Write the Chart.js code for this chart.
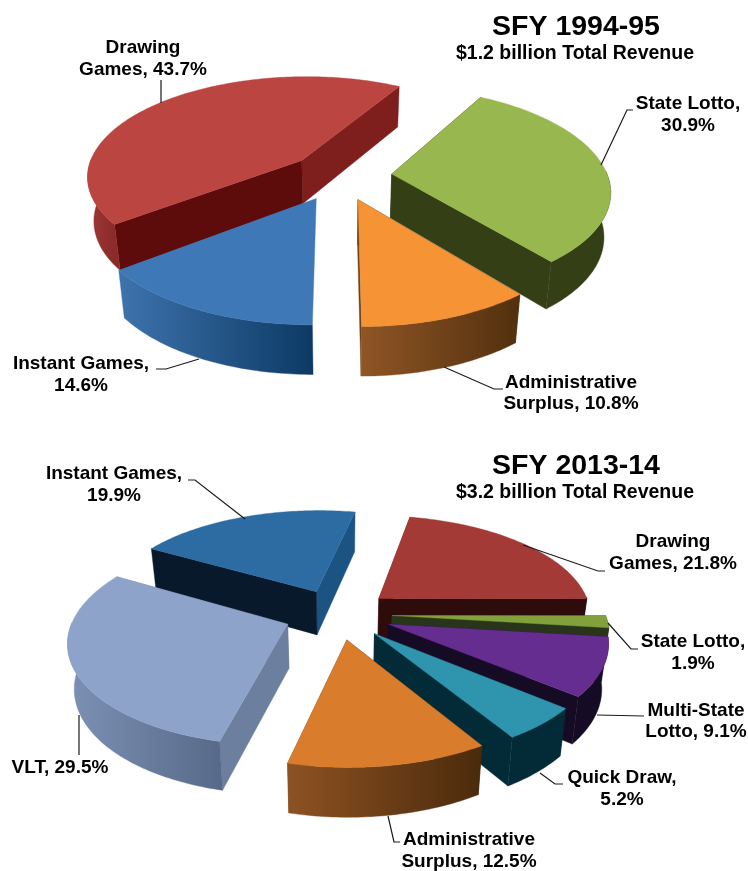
<!DOCTYPE html>
<html><head><meta charset="utf-8">
<style>
html,body{margin:0;padding:0;background:#fff}
#wrap{position:relative;width:748px;height:871px;overflow:hidden}
.c{position:absolute;left:0}
</style>
<script src="https://cdn.jsdelivr.net/npm/chart.js@4/dist/chart.umd.min.js"></script>
</head><body><div id="wrap">
<div class="c" style="top:0;width:748px;height:435px"><canvas id="a"></canvas></div>
<div class="c" style="top:435px;width:748px;height:436px"><canvas id="b"></canvas></div>
</div>
<script>
// ---- data ----
const categories94 = ['State Lotto', 'Administrative Surplus', 'Instant Games', 'Drawing Games'];
const values94 = [30.9, 10.8, 14.6, 43.7];
const categories14 = ['Drawing Games', 'State Lotto', 'Multi-State Lotto', 'Quick Draw', 'Administrative Surplus', 'VLT', 'Instant Games'];
const values14 = [21.8, 1.9, 9.1, 5.2, 12.5, 29.5, 19.9];
const title94 = ['SFY 1994-95', '$1.2 billion Total Revenue'];
const title14 = ['SFY 2013-14', '$3.2 billion Total Revenue'];

// ---- styles ----
const top94 = ['#98B84F', '#F59335', '#3F78B6', '#BA4541'];
const top14 = ['#A43A35', '#82A13C', '#652D90', '#2F94AE', '#D97D2C', '#8EA3C9', '#2C6CA3'];
const walls94 = [
  {s:'#343F16', e:'#343F16', l:'#343F16', r:'#343F16'},
  {s:'#52300E', e:'#6E4018', l:'#8F5525', r:'#52300E'},
  {s:null, e:null, l:'#3E73AD', r:'#0C3A64'},
  {s:'#5E0B0B', e:'#7E1F1D', l:'#9F3836', r:'#8A2B29'}
];
const walls14 = [
  {s:'#6A2220', e:'#2F0C0C', l:'#2F0C0C', r:'#2F0C0C'},
  {s:'#28351A', e:'#28351A', l:'#28351A', r:'#28351A'},
  {s:'#160B24', e:'#160B24', l:'#160B24', r:'#160B24'},
  {s:'#032B37', e:'#032B37', l:'#032B37', r:'#032B37'},
  {s:'#4A2A0C', e:'#6E4018', l:'#8E5222', r:'#4A2A0C'},
  {s:'#6C7F9F', e:'#6C7F9F', l:'#7C91B5', r:'#586A89'},
  {s:'#08192C', e:'#1B5482', l:'#1B5482', r:'#1B5482'}
];
const FONT = 'bold 19px "Liberation Sans", Arial, sans-serif';
const labels94 = [
  {t:['Drawing','Games, 43.7%'], x:143, y:[53,75], line:[[161,80],[161,103]]},
  {t:['State Lotto,','30.9%'], x:688, y:[109,131], line:[[633,110],[627,110],[601,165]]},
  {t:['Administrative','Surplus, 10.8%'], x:571, y:[388,409], line:[[503,389],[494,389],[444,367]]},
  {t:['Instant Games,','14.6%'], x:81, y:[369,391], line:[[156,369],[166,369],[199,359]]}
];
const labels14 = [
  {t:['Instant Games,','19.9%'], x:114, y:[479,501], line:[[188,480],[195,480],[245,519]]},
  {t:['Drawing','Games, 21.8%'], x:673, y:[547,569], line:[[605,571],[598,571],[523,545]]},
  {t:['State Lotto,','1.9%'], x:693, y:[647,669], line:[[638,649],[631,649],[608,623]]},
  {t:['Multi-State','Lotto, 9.1%'], x:696, y:[716,737], line:[[644,716],[597,715]]},
  {t:['Quick Draw,','5.2%'], x:622, y:[783,805], line:[[563,784],[555,784],[540,773]]},
  {t:['Administrative','Surplus, 12.5%'], x:469, y:[845,867], line:[[400,842],[394,842],[388,816]]},
  {t:['VLT, 29.5%'], x:60, y:[773], line:[[79,715],[79,755]]}
];

// perspective view of each pie (page pixels)
function project(V, u, v, z){
  const s = V.D*V.R/(V.D*V.R - v);
  return [V.cx + u*s*(1 - z*0.025), V.cy + V.k*v*s + z*V.h*Math.pow(s,0.6) - V.top];
}
function fillPoly(ctx, pts, fill){
  ctx.beginPath();
  pts.forEach((p,i)=> i?ctx.lineTo(p[0],p[1]):ctx.moveTo(p[0],p[1]));
  ctx.closePath();
  ctx.fillStyle = fill; ctx.fill();
  ctx.strokeStyle = fill; ctx.lineWidth = 0.4; ctx.stroke();
}
function drawSlice(ctx, el, V, w){
  const a0 = el.startAngle, a1 = el.endAngle, mid = (a0+a1)/2;
  const sh = el.options.offset/2;
  const ou = Math.cos(mid)*sh, ov = Math.sin(mid)*sh;
  const P = (a,r,z)=> project(V, ou+Math.cos(a)*r, ov+Math.sin(a)*r, z);
  const n = Math.max(4, Math.ceil((a1-a0)*180/Math.PI));
  const arc = [];
  for(let i=0;i<=n;i++) arc.push(a0+(a1-a0)*i/n);
  const tipT = P(0,0,0), tipB = P(0,0,1);
  const walls = [
    {d:Math.sin(a0), pts:[tipT,P(a0,V.R,0),P(a0,V.R,1),tipB], c:w.s},
    {d:Math.sin(a1), pts:[tipT,P(a1,V.R,0),P(a1,V.R,1),tipB], c:w.e}
  ].sort((x,y)=>x.d-y.d);
  walls.forEach(q=>{ if(q.c) fillPoly(ctx,q.pts,q.c); });
  // visible part of the outer rim
  const vis = arc.filter(a=>Math.sin(a) > -0.03);
  if(vis.length>1){
    const upper = vis.map(a=>P(a,V.R,0)), lower = vis.map(a=>P(a,V.R,1));
    const xs = upper.map(p=>p[0]);
    const g = ctx.createLinearGradient(Math.min(...xs),0,Math.max(...xs),0);
    g.addColorStop(0,w.l); g.addColorStop(1,w.r);
    fillPoly(ctx, upper.concat(lower.reverse()), g);
  }
  fillPoly(ctx, [tipT].concat(arc.map(a=>P(a,V.R,0))), el.options.backgroundColor);
}
const pie3d = {
  id:'pie3d',
  beforeDatasetsDraw(chart, args, o){
    const ctx = chart.ctx, arcs = chart.getDatasetMeta(0).data;
    const order = arcs.map((el,i)=>({el,i,k:Math.sin((el.startAngle+el.endAngle)/2)})).sort((x,y)=>x.k-y.k);
    ctx.save();
    order.forEach(q=>drawSlice(ctx,q.el,o.view,o.walls[q.i]));
    ctx.restore();
    return false;
  },
  afterDraw(chart, args, o){
    const ctx = chart.ctx, T = o.view.top;
    ctx.save();
    ctx.textAlign='center'; ctx.textBaseline='alphabetic'; ctx.fillStyle='#000';
    ctx.font='bold 28.5px "Liberation Sans", Arial, sans-serif';
    ctx.fillText(o.title[0], o.tx+1, o.ty[0]-T);
    ctx.font='bold 19.5px "Liberation Sans", Arial, sans-serif';
    ctx.fillText(o.title[1], o.tx, o.ty[1]-T);
    ctx.font=FONT;
    o.labels.forEach(l=>{
      l.t.forEach((s,i)=>ctx.fillText(s,l.x,l.y[i]-T));
      ctx.beginPath();
      l.line.forEach((p,i)=> i?ctx.lineTo(p[0],p[1]-T):ctx.moveTo(p[0],p[1]-T));
      ctx.strokeStyle='#1a1a1a'; ctx.lineWidth=1.2; ctx.stroke();
    });
    ctx.restore();
  }
};
function make(id, cats, vals, colors, rot, offs, o){
  return new Chart(document.getElementById(id),{
    type:'pie',
    data:{labels:cats,datasets:[{data:vals,backgroundColor:colors,offset:offs,borderWidth:0}]},
    options:{responsive:true,maintainAspectRatio:false,animation:false,rotation:rot,
      plugins:{legend:{display:false},tooltip:{enabled:false},title:{display:false},pie3d:o}},
    plugins:[pie3d]
  });
}
make('a',categories94,values94,top94,29.8,values94.map(()=>104),{
  view:{cx:340,cy:176,R:216,k:0.465,D:6.77,h:44,top:0},walls:walls94,labels:labels94,title:title94,tx:575,ty:[35,59]});
make('b',categories14,values14,top14,11.5,values14.map(()=>108),{
  view:{cx:338,cy:614,R:213,k:0.4675,D:6.64,h:44,top:435},walls:walls14,labels:labels14,title:title14,tx:575,ty:[474,498]});
</script></body></html>
